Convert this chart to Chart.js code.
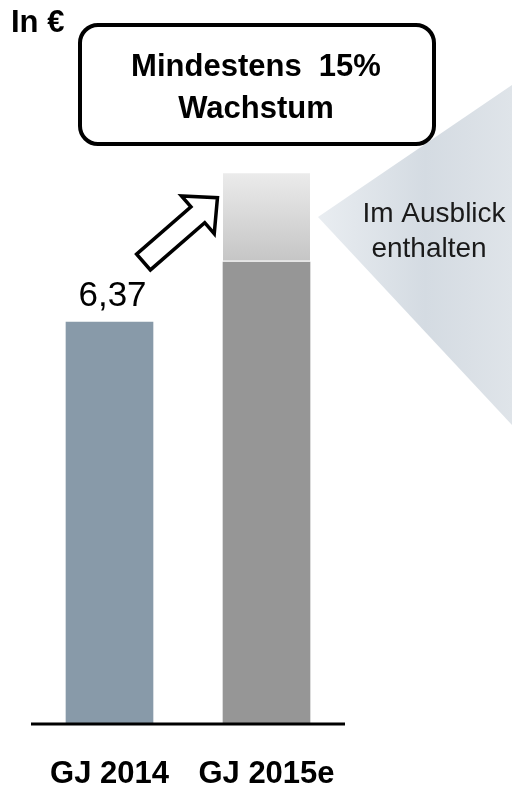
<!DOCTYPE html>
<html>
<head>
<meta charset="utf-8">
<script src="https://cdn.jsdelivr.net/npm/chart.js@4"></script>
<style>
  body { margin: 0; background: #fff; }
  canvas { display: block; }
</style>
</head>
<body>
<canvas id="eps-chart" width="512" height="786"></canvas>
<script>
const categories = ['GJ 2014', 'GJ 2015e'];
const baseValues = [6.37, 7.32];
const outlookValues = [null, 1.41];
const valueLabels = ['6,37', ''];

const FONT = '"Liberation Sans", Arial, sans-serif';

function roundedRect(ctx, x, y, w, h, r) {
    ctx.beginPath();
    ctx.moveTo(x + r, y);
    ctx.lineTo(x + w - r, y);
    ctx.arcTo(x + w, y, x + w, y + r, r);
    ctx.lineTo(x + w, y + h - r);
    ctx.arcTo(x + w, y + h, x + w - r, y + h, r);
    ctx.lineTo(x + r, y + h);
    ctx.arcTo(x, y + h, x, y + h - r, r);
    ctx.lineTo(x, y + r);
    ctx.arcTo(x, y, x + r, y, r);
    ctx.closePath();
}

function drawArrow(ctx, x, y, angle) {
    const len = 98, hl = 26, hw = 10.5, HW = 25;
    ctx.save();
    ctx.translate(x, y);
    ctx.rotate(angle);
    ctx.beginPath();
    ctx.moveTo(0, -hw);
    ctx.lineTo(len - hl, -hw);
    ctx.lineTo(len - hl, -HW);
    ctx.lineTo(len, 0);
    ctx.lineTo(len - hl, HW);
    ctx.lineTo(len - hl, hw);
    ctx.lineTo(0, hw);
    ctx.closePath();
    ctx.fillStyle = '#fff';
    ctx.fill();
    ctx.lineWidth = 3.5;
    ctx.lineJoin = 'miter';
    ctx.strokeStyle = '#000';
    ctx.stroke();
    ctx.restore();
}

// grey callout wedge behind the chart
const calloutPlugin = {
    id: 'callout',
    beforeDatasetsDraw(chart) {
        const ctx = chart.ctx;
        ctx.save();
        const g = ctx.createLinearGradient(318, 0, 512, 0);
        g.addColorStop(0, '#e9edf1');
        g.addColorStop(0.55, '#d4dbe2');
        g.addColorStop(1, '#dfe4e9');
        ctx.beginPath();
        ctx.moveTo(318, 217);
        ctx.lineTo(512, 85);
        ctx.lineTo(512, 425);
        ctx.closePath();
        ctx.fillStyle = g;
        ctx.fill();
        ctx.restore();
    }
};

const annotationsPlugin = {
    id: 'annotations',
    afterDraw(chart) {
        const ctx = chart.ctx;
        const area = chart.chartArea;
        const x = chart.scales.x;
        ctx.save();

        // baseline
        ctx.beginPath();
        ctx.moveTo(area.left, area.bottom);
        ctx.lineTo(area.right, area.bottom);
        ctx.lineWidth = 3;
        ctx.strokeStyle = '#000';
        ctx.stroke();

        // category labels
        ctx.fillStyle = '#000';
        ctx.textAlign = 'center';
        ctx.textBaseline = 'alphabetic';
        ctx.font = 'bold 31px ' + FONT;
        categories.forEach((c, i) => {
            ctx.fillText(c, x.getPixelForValue(i), 783);
        });

        // value label
        const meta = chart.getDatasetMeta(0);
        ctx.font = '35px ' + FONT;
        valueLabels.forEach((lbl, i) => {
            if (!lbl) return;
            const bar = meta.data[i];
            ctx.fillText(lbl, bar.x + 3, bar.y - 16);
        });

        // unit
        ctx.textAlign = 'left';
        ctx.font = 'bold 31px ' + FONT;
        ctx.fillText('In €', 11, 32);

        // growth box
        roundedRect(ctx, 80, 25, 354, 119, 18);
        ctx.fillStyle = '#fff';
        ctx.fill();
        ctx.lineWidth = 4;
        ctx.strokeStyle = '#000';
        ctx.stroke();
        ctx.fillStyle = '#000';
        ctx.textAlign = 'center';
        ctx.font = 'bold 31px ' + FONT;
        ctx.fillText('Mindestens  15%', 256, 76);
        ctx.fillText('Wachstum', 256, 118);

        // callout text
        ctx.fillStyle = '#1a1a1a';
        ctx.font = '28px ' + FONT;
        ctx.fillText('Im Ausblick', 434, 222);
        ctx.fillText('enthalten', 429, 257);

        drawArrow(ctx, 143.5, 262, -41 * Math.PI / 180);
        ctx.restore();
    }
};

function outlookFill(context) {
    const chart = context.chart;
    if (!chart.chartArea || !chart.scales.y) return '#d6d6d6';
    const y = chart.scales.y;
    const i = context.dataIndex;
    const top = y.getPixelForValue(baseValues[i] + (outlookValues[i] || 0));
    const bottom = y.getPixelForValue(baseValues[i]);
    const g = chart.ctx.createLinearGradient(0, top, 0, bottom);
    g.addColorStop(0, '#ebebeb');
    g.addColorStop(1, '#c5c5c5');
    return g;
}

document.addEventListener('DOMContentLoaded', () => {
    const ctx = document.getElementById('eps-chart').getContext('2d');
    new Chart(ctx, {
        type: 'bar',
        data: {
            labels: categories,
            datasets: [
                {
                    label: 'Ist',
                    data: baseValues,
                    backgroundColor: ['#889aa9', '#969696'],
                    barThickness: 87
                },
                {
                    label: 'Ausblick',
                    data: outlookValues,
                    backgroundColor: outlookFill,
                    borderColor: '#fff',
                    borderWidth: { top: 0, left: 0, right: 0, bottom: 2 },
                    borderSkipped: false,
                    barThickness: 87
                }
            ]
        },
        options: {
            responsive: false,
            animation: false,
            layout: { padding: { top: 30, bottom: 62, left: 31, right: 167 } },
            scales: {
                x: { display: false, stacked: true },
                y: { display: false, stacked: true, min: 0, max: 11 }
            },
            plugins: { legend: { display: false }, tooltip: { enabled: false } }
        },
        plugins: [calloutPlugin, annotationsPlugin]
    });
});
</script>
</body>
</html>
